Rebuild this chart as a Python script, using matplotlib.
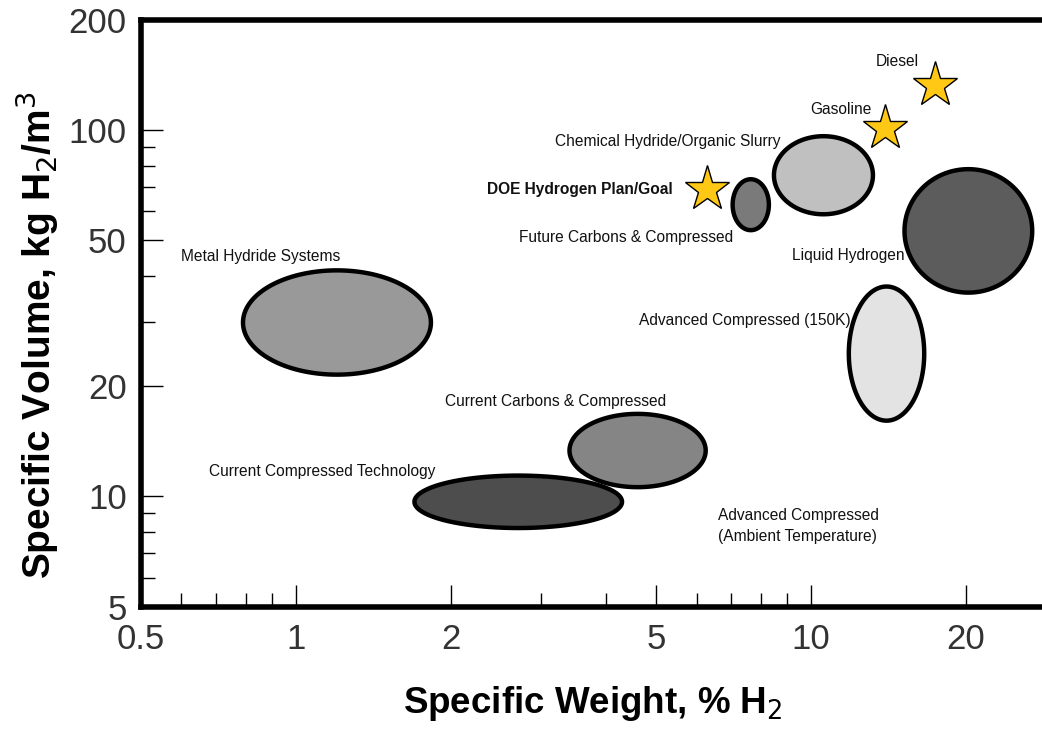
import numpy as np
import matplotlib
matplotlib.use('Agg')
import matplotlib.pyplot as plt
from matplotlib.ticker import FixedLocator, NullFormatter

plt.rcParams['font.family'] = ['Liberation Sans', 'DejaVu Sans']

# storage systems: x range (wt% H2), y range (kg H2/m3), fill grey
systems = ['Metal Hydride Systems', 'Current Carbons & Compressed',
           'Current Compressed Technology', 'Future Carbons & Compressed',
           'Chemical Hydride/Organic Slurry', 'Liquid Hydrogen',
           'Advanced Compressed (150K)']
x_lo = [0.79, 3.40, 1.70, 7.05, 8.48, 15.2, 11.85]
x_hi = [1.83, 6.25, 4.30, 8.29, 13.2, 26.9, 16.6]
y_lo = [21.5, 10.6, 8.2, 53.3, 58.9, 36.0, 16.1]
y_hi = [41.4, 16.8, 11.4, 73.4, 96.2, 78.2, 37.4]
fills = ['#999999', '#858585', '#4d4d4d', '#7a7a7a', '#c0c0c0', '#5c5c5c', '#e3e3e3']

# reference points (stars)
stars = ['DOE Hydrogen Plan/Goal', 'Gasoline', 'Diesel']
star_x = [6.3, 13.9, 17.4]
star_y = [69.0, 101.0, 133.0]

# label anchors (x, y, ha)
label_pos = {
    'Metal Hydride Systems': (0.60, 45.2, 'left'),
    'Current Carbons & Compressed': (1.95, 18.2, 'left'),
    'Current Compressed Technology': (0.68, 11.7, 'left'),
    'Future Carbons & Compressed': (7.05, 51.0, 'right'),
    'Chemical Hydride/Organic Slurry': (8.75, 93.0, 'right'),
    'Liquid Hydrogen': (15.2, 45.5, 'right'),
    'Advanced Compressed (150K)': (11.95, 30.2, 'right'),
    'DOE Hydrogen Plan/Goal': (5.4, 69.0, 'right'),
    'Gasoline': (13.1, 114.0, 'right'),
    'Diesel': (16.2, 154.0, 'right'),
}

fig = plt.figure(figsize=(10.42, 7.31), dpi=100)
ax = fig.add_axes([0.135, 0.170, 0.868, 0.803])
ax.set_xscale('log')
ax.set_yscale('log')
ax.set_xlim(0.5, 28.5)
ax.set_ylim(5, 200)

t = np.linspace(0, 2 * np.pi, 300)
for name, a, b, c, d, fc in zip(systems, x_lo, x_hi, y_lo, y_hi, fills):
    cx = (np.log10(a) + np.log10(b)) / 2
    rx = (np.log10(b) - np.log10(a)) / 2
    cy = (np.log10(c) + np.log10(d)) / 2
    ry = (np.log10(d) - np.log10(c)) / 2
    ax.fill(10 ** (cx + rx * np.cos(t)), 10 ** (cy + ry * np.sin(t)),
            facecolor=fc, edgecolor='black', linewidth=3.2, zorder=2)

ax.plot(star_x, star_y, linestyle='none', marker='*', markersize=34,
        markerfacecolor='#FFC814', markeredgecolor='black', markeredgewidth=1.0, zorder=3)

for name, (lx, ly, ha) in label_pos.items():
    bold = 'bold' if name.startswith('DOE') else 'normal'
    ax.text(lx, ly, name, ha=ha, va='center', fontsize=11.2, fontweight=bold,
            color='#111111')
ax.text(6.6, 8.3, 'Advanced Compressed\n(Ambient Temperature)', ha='left', va='center',
        fontsize=11.2, linespacing=1.5, color='#111111')

# axes styling
for s in ['left', 'bottom', 'top']:
    ax.spines[s].set_linewidth(4)
ax.spines['right'].set_visible(False)

ax.xaxis.set_major_locator(FixedLocator([0.5, 1, 2, 5, 10, 20]))
ax.xaxis.set_minor_locator(FixedLocator([0.6, 0.7, 0.8, 0.9, 3, 4, 6, 7, 8, 9]))
ax.set_xticklabels(['0.5', '1', '2', '5', '10', '20'])
ax.yaxis.set_major_locator(FixedLocator([5, 10, 20, 50, 100, 200]))
ax.yaxis.set_minor_locator(FixedLocator([6, 7, 8, 9, 30, 40, 60, 70, 80, 90]))
ax.set_yticklabels(['5', '10', '20', '50', '100', '200'])
ax.xaxis.set_minor_formatter(NullFormatter())
ax.yaxis.set_minor_formatter(NullFormatter())

ax.tick_params(which='major', direction='in', length=16, width=1, labelsize=25,
               labelcolor='#333333', pad=10)
ax.tick_params(which='minor', direction='in', length=10, width=1)
ax.tick_params(axis='x', which='both', top=False)
ax.tick_params(axis='x', which='major', pad=12)

ax.set_xlabel('Specific Weight, % H$_2$', fontsize=26.5, fontweight='bold', labelpad=20)
ax.set_ylabel('Specific Volume, kg H$_2$/m$^3$', fontsize=28, fontweight='bold')
ax.yaxis.set_label_coords(-0.088, 0.463)

fig.savefig('out.png', dpi=100)
